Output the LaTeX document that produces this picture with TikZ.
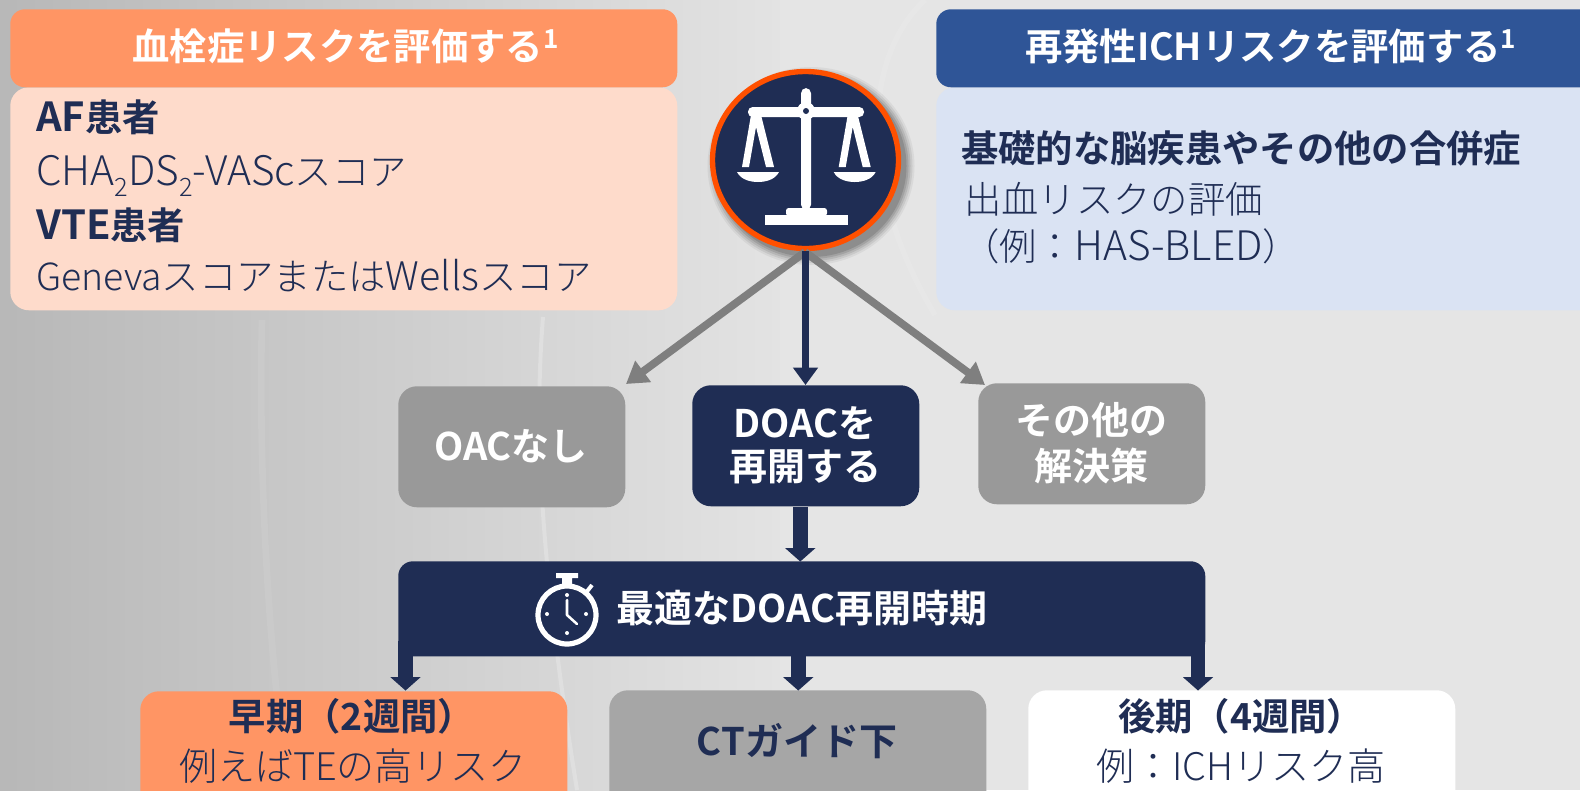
\documentclass[tikz,border=0pt]{standalone}
\usepackage{fontspec}
\usetikzlibrary{arrows.meta,calc,shapes.geometric}
\setmainfont{Noto Sans CJK JP Light}[BoldFont={Noto Sans CJK JP Bold}]
\definecolor{navy}{HTML}{1F2D54}
\definecolor{orangeh}{HTML}{FF9564}
\definecolor{peach}{HTML}{FEDBCB}
\definecolor{blueh}{HTML}{2F5597}
\definecolor{bluel}{HTML}{DAE3F3}
\definecolor{grayb}{HTML}{999999}
\definecolor{graye}{HTML}{A6A6A6}
\definecolor{graya}{HTML}{7F7F7F}
\definecolor{ringc}{HTML}{FF5000}
\newcommand{\lowtwo}{\raisebox{-0.28em}{\fontsize{19}{19}\selectfont 2}}
\newcommand{\biglat}[1]{{\fontsize{30.5}{30.5}\selectfont #1}}
\newcommand{\boldlat}[1]{{\fontsize{30}{30}\selectfont #1}}
\tikzset{
 box/.style={rounded corners=14pt,inner sep=0pt,anchor=north west},
 hdr/.style={font=\fontsize{28}{28}\selectfont\bfseries,text=white,inner sep=0pt},
 bd/.style={font=\fontsize{28}{28}\selectfont,text=navy,inner sep=0pt,anchor=base west},
 bdb/.style={font=\fontsize{28}{28}\selectfont\bfseries,text=navy,inner sep=0pt,anchor=base west},
 ctr/.style={font=\fontsize{28.5}{28.5}\selectfont\bfseries,inner sep=0pt},
 ctrn/.style={font=\fontsize{28.5}{28.5}\selectfont,text=navy,inner sep=0pt},
 garrow/.style={draw=graya,line width=5.8pt,-{Triangle[length=16pt,width=19pt]}},
 narrow/.style={draw=navy,line width=5.8pt,-{Triangle[length=13pt,width=18pt]}},
 farrow/.style={draw=navy,line width=11pt,-{Triangle[length=10pt,width=22pt]}},
}
\begin{document}
\begin{tikzpicture}[x=0.75pt,y=-0.75pt]
\useasboundingbox (0,0) rectangle (1580,790);
% background
\fill[left color=black!28,right color=black!11] (0,0) rectangle (780,790);
\fill[black!10] (780,0) rectangle (1580,790);
\draw[white,opacity=.22,line width=3pt] (543,317) .. controls (534,430) and (540,560) .. (577,790);
\draw[white,opacity=.07,line width=5pt] (262,320) .. controls (258,480) and (270,680) .. (290,790);
\draw[white,opacity=.10,line width=4pt] (935,315) .. controls (860,190) and (860,60) .. (925,0);
% header boxes
\node[box,fill=peach,minimum width=500.25pt,minimum height=167.25pt] (afbody) at (10,87) {};
\node[box,fill=orangeh,minimum width=500.25pt,minimum height=58.5pt,rounded corners=11pt] (afhead) at (10,9) {};
\node[box,fill=bluel,minimum width=500pt,minimum height=167.25pt] (ichbody) at (936,87) {};
\node[box,fill=blueh,minimum width=500pt,minimum height=58.5pt,rounded corners=11pt] (ichhead) at (936,9) {};
\node[hdr] (afT) at (346,46) {血栓症リスクを評価する\textsuperscript{1}};
\node[hdr] (ichT) at (1271,46) {再発性ICHリスクを評価する\textsuperscript{1}};
\node[bdb] (t1) at (36,131) {\boldlat{AF}患者};
\node[bd] (t2) at (36,185) {\biglat{CHA\lowtwo DS\lowtwo-VASc}スコア};
\node[bdb] (t3) at (36,239) {\boldlat{VTE}患者};
\node[bd] (t4) at (36,290) {Genevaスコアまたは{\fontsize{29.5}{29.5}\selectfont Wells}スコア};
\node[bdb] (r1) at (961,162) {基礎的な脳疾患やその他の合併症};
\node[bd] (r2) at (964,213) {出血リスクの評価};
\node[bd] (r3) at (962,260) {（例：\biglat{HAS-BLED}）};
% middle boxes
\node[box,fill=grayb,minimum width=170.25pt,minimum height=90.75pt] (oac) at (398,386) {};
\node[box,fill=navy,minimum width=170.25pt,minimum height=90.75pt] (doac) at (692,385) {};
\node[box,fill=grayb,minimum width=170.25pt,minimum height=90.75pt] (oth) at (978,383) {};
\node[ctr,text=white] (oacT) at (511,446) {OACなし};
\node[ctr,text=white] (doacT1) at (805,423) {DOACを};
\node[ctr,text=white] (doacT2) at (805,467) {再開する};
\node[ctr,text=white] (othT1) at (1091,420) {その他の};
\node[ctr,text=white] (othT2) at (1091,466) {解決策};
% timing box
\node[box,fill=navy,minimum width=605.25pt,minimum height=71.25pt,rounded corners=11pt] (timing) at (398,561) {};
\node[ctr,text=white,anchor=west] (timingT) at (616,608) {最適なDOAC再開時期};
% clock
\draw[white,line width=3.9pt] (567,615) circle[radius=29];
\fill[white] (556,573) rectangle (578,578) (562,578) rectangle (572,586);
\draw[white,line width=3pt] (585,594) -- (592,585);
\draw[white,line width=1.9pt,line cap=round,line join=round] (567,600) -- (567,615) -- (577,624);
\foreach \p in {(567,595),(547,614),(586,614),(567,633)} \fill[white] \p circle[radius=2];
% bottom boxes
\node[box,fill=orangeh,minimum width=320.25pt,minimum height=90pt] (early) at (140,691) {};
\node[box,fill=graye,minimum width=282.75pt,minimum height=90pt] (ct) at (609,690) {};
\node[box,fill=white,minimum width=320.25pt,minimum height=90pt] (late) at (1028,690) {};
\node[ctr,text=navy,font=\fontsize{28}{28}\selectfont\bfseries] (e1) at (352,716) {早期（2週間）};
\node[ctrn] (e2) at (353,766) {例えばTEの高リスク};
\node[ctr,text=navy] (c1) at (797,741) {CTガイド下};
\node[ctr,text=navy,font=\fontsize{28}{28}\selectfont\bfseries] (l1) at (1241,716) {後期（4週間）};
\node[ctrn] (l2) at (1241,766) {例：ICHリスク高};
% scale circle shadow
\foreach \r/\o in {8/.05,6/.07,4/.09,2/.11,0/.13}
  \fill[black,opacity=\o] (811,166) ellipse[x radius=95.5+\r,y radius=91+\r];
\node[ellipse,draw=ringc,fill=navy,line width=4pt,minimum width=139.5pt,minimum height=132.75pt,inner sep=0pt] (scale) at (805.5,160) {};
\begin{scope}[white]
\fill[rounded corners=4pt] (801,88) rectangle (811,210);
\fill[rounded corners=3.5pt] (748,107) rectangle (864,117);
\fill (806,111) circle[radius=9];
\fill[navy] (806,111) circle[radius=3];
\foreach \dx in {0,96.7}{
 \begin{scope}[xshift=\dx*0.75pt]
 \fill (751,115) -- (761,115) -- (774,167) -- (766,167) -- (756,127) -- (749,167) -- (742,167) -- cycle;
 \fill (737,172) -- (779,172) .. controls (775,180) and (765,182) .. (758,182) .. controls (751,182) and (741,180) .. (737,172) -- cycle;
 \end{scope}}
\fill[rounded corners=2pt] (786,216) -- (786,208) -- (827,208) -- (827,216) -- cycle;
\fill (765,215) rectangle (848,225);
\end{scope}
% connectors
\coordinate (sB) at (805,252);
\coordinate (oacE) at (626,384);
\coordinate (othE) at (985,385);
\draw[garrow] (sB) -- (oacE);
\draw[garrow] (sB) -- (othE);
\draw[narrow] (scale.south) -- (scale.south |- doac.north);
\draw[farrow] ($(doac.south)+(-5.5,0)$) -- ($(doac.south)+(-5.5,55)$);
\draw[farrow] ($(timing.south west)+(7.5,-16)$) -- ($(timing.south west)+(7.5,34)$);
\draw[farrow] ($(timing.south)+(-3.5,-2)$) -- ($(timing.south)+(-3.5,34)$);
\draw[farrow] ($(timing.south east)+(-7.5,-16)$) -- ($(timing.south east)+(-7.5,34)$);
\end{tikzpicture}
\end{document}
